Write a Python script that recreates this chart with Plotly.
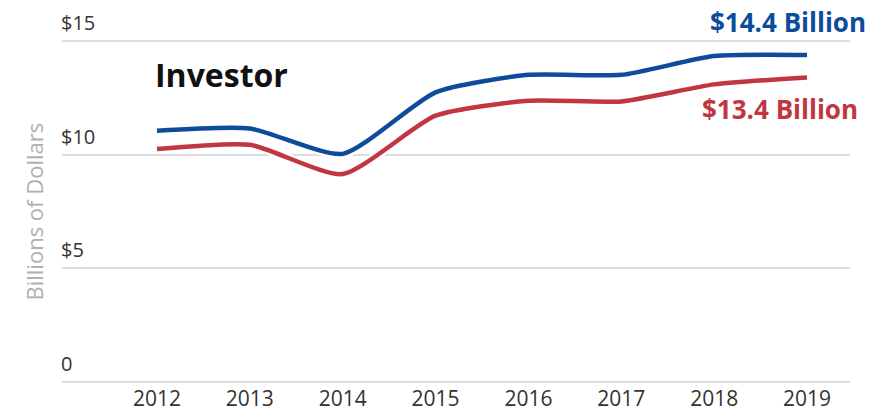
import plotly.graph_objects as go

years = [2012, 2013, 2014, 2015, 2016, 2017, 2018, 2019]
upper_values = [11.06, 11.16, 10.04, 12.75, 13.52, 13.52, 14.35, 14.4]
lower_values = [10.25, 10.44, 9.15, 11.72, 12.38, 12.35, 13.1, 13.4]
y_ticks = [0, 5, 10, 15]
y_tick_labels = ["0", "$5", "$10", "$15"]

BLUE = "#0d4c9b"
RED = "#c1363f"
FONT = "Open Sans, DejaVu Sans, sans-serif"

fig = go.Figure()

for vals, color in [(lower_values, RED), (upper_values, BLUE)]:
    # white halo under each line
    fig.add_trace(go.Scatter(
        x=years, y=vals, mode="lines",
        line=dict(color="white", width=9, shape="spline", smoothing=0.6),
        hoverinfo="skip", showlegend=False
    ))
    fig.add_trace(go.Scatter(
        x=years, y=vals, mode="lines",
        line=dict(color=color, width=4.5, shape="spline", smoothing=0.6),
        showlegend=False
    ))

# y tick labels sit above the gridlines, at the left edge
for v, t in zip(y_ticks, y_tick_labels):
    fig.add_annotation(x=0, y=v, xref="paper", yref="y", text=t, showarrow=False,
                       xanchor="left", yanchor="bottom", yshift=3, xshift=-3,
                       font=dict(family=FONT, size=20, color="#333333"))

fig.add_annotation(x=0, y=7.5, xref="paper", yref="y", text="Billions of Dollars",
                   textangle=-90, showarrow=False, xanchor="center", yanchor="middle",
                   xshift=-29, font=dict(family=FONT, size=22, color="#b0b0b0"))

fig.add_annotation(x=years[-1], y=upper_values[-1], text="<b>$14.4 Billion</b>",
                   xref="x", yref="y", showarrow=False, xanchor="right", yanchor="middle",
                   xshift=60, yshift=33, borderpad=0,
                   font=dict(family=FONT, size=26, color=BLUE))
fig.add_annotation(x=years[-1], y=lower_values[-1], text="<b>$13.4 Billion</b>",
                   xref="x", yref="y", showarrow=False, xanchor="right", yanchor="middle",
                   xshift=52, yshift=-31, borderpad=0,
                   font=dict(family=FONT, size=26, color=RED))
fig.add_annotation(x=years[0], y=13.55, text="<b>Investor</b>",
                   xref="x", yref="y", showarrow=False, xanchor="left", yanchor="middle",
                   xshift=-4, font=dict(family=FONT, size=32, color="#111111"))

# page body adds an 8px margin, so the figure is 8px smaller than the window
fig.update_layout(
    width=873, height=412,
    margin=dict(l=54, r=31, t=30.7, b=35.7, autoexpand=False),
    paper_bgcolor="white", plot_bgcolor="white",
    font=dict(family=FONT),
)
fig.update_xaxes(
    range=[2010.977, 2019.463], tickvals=years, ticktext=[str(y) for y in years],
    showgrid=False, zeroline=False, showline=False, ticks="",
    tickfont=dict(size=21, color="#333333"), automargin=False,
)
fig.update_yaxes(
    range=[-0.1, 15.1], tickvals=y_ticks, showticklabels=False,
    gridcolor="#dddddd", gridwidth=1.5,
    zeroline=False, showline=False, ticks="", automargin=False,
)

fig.write_html("out.html")
